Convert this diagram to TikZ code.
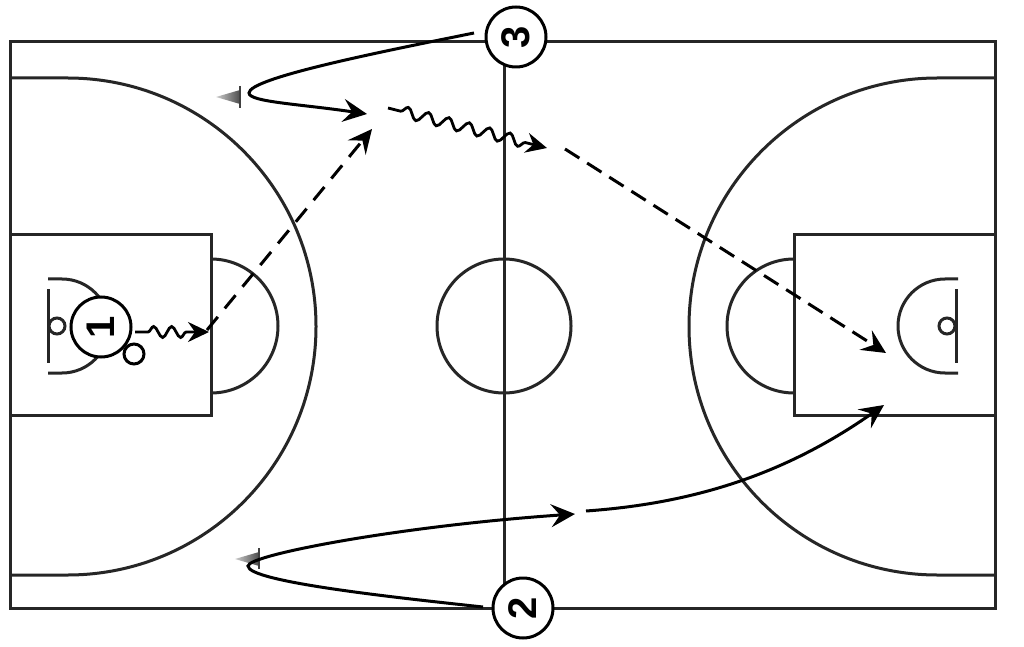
\documentclass[tikz,border=0pt]{standalone}
\usepackage{fontspec}
\setmainfont{Liberation Sans}
\usetikzlibrary{arrows.meta,decorations.pathmorphing}
\tikzset{
  court/.style={line width=3pt,draw=black!85},
  player/.style={circle,draw=black,line width=3pt,fill=white,minimum size=60pt,inner sep=0pt,font=\fontsize{40}{40}\selectfont\bfseries},
  ballnode/.style={circle,draw=black,line width=3pt,fill=white,minimum size=20pt,inner sep=0pt},
  tipbig/.style={-{Stealth[length=24pt,width=23pt,inset=9pt]}},
  move/.style={line width=3pt,tipbig},
  passing/.style={line width=3pt,tipbig,dash pattern=on 17pt off 11pt},
  passinglong/.style={line width=3pt,tipbig,dash pattern=on 17pt off 9.2pt},
  dribble/.style={line width=2.8pt,-{Stealth[length=21pt,width=20pt,inset=7pt]},decorate,decoration={snake,amplitude=5.5pt,segment length=#1,pre length=13pt,post length=16pt}},
  screenbar/.style={line width=2.4pt,draw=black!75},
}
\begin{document}
\begin{tikzpicture}[x=1pt,y=1pt]
\useasboundingbox (0,0) rectangle (1024,646);
\fill[white] (0,0) rectangle (1024,646);
% court
\draw[court] (10,38) rectangle (995,604);
\draw[court] (504,38) -- (504,604);
\draw[court] (504,320) circle[radius=67];
\draw[court] (10,411) -- (211,411) -- (211,231) -- (10,231);
\draw[court] (995,411) -- (794,411) -- (794,231) -- (995,231);
\draw[court] (211,387) arc[start angle=90,end angle=-90,radius=67];
\draw[court] (794,387) arc[start angle=90,end angle=270,radius=67];
\draw[court] (10,568) -- (67.5,568) arc[start angle=90,end angle=-90,radius=248.5] -- (10,71);
\draw[court] (995,568) -- (937.5,568) arc[start angle=90,end angle=270,radius=248.5] -- (995,71);
% baskets
\draw[court] (48,357) -- (48,283);
\draw[court] (48,367) -- (62,367) arc[start angle=90,end angle=-90,radius=47] -- (48,273);
\draw[court] (57,320) circle[radius=8];
\draw[court] (956,357) -- (956,283);
\draw[court] (958,367) -- (945,367) arc[start angle=90,end angle=270,radius=47] -- (958,273);
\draw[court] (947,320) circle[radius=8];
% screens
\shade[left color=black!20,right color=black!70] (216,549) -- (240,556) -- (240,542) -- cycle;
\draw[screenbar] (240,560) -- (240,538);
\shade[left color=black!20,right color=black!70] (235,87) -- (259,94) -- (259,80) -- cycle;
\draw[screenbar] (259,98) -- (259,77);
% players
\node[player] (p3) at (516,609) {\rotatebox{90}{3}};
\node[player] (p2) at (523,38) {\rotatebox{90}{2}};
\node[player] (p1) at (101,319) {\rotatebox{90}{1}};
\node[ballnode] (ball) at (134,292) {};
% free ends
\coordinate (a1) at (474,613);
\coordinate (a2) at (367,532);
\coordinate (b1) at (483,39);
\coordinate (b2) at (575,132);
\coordinate (c1) at (586,135);
\coordinate (c2) at (884,241);
\coordinate (d1) at (135,314);
\coordinate (d2) at (209,314);
\coordinate (e1) at (207,316);
\coordinate (e2) at (372,517);
\coordinate (f1) at (388,538);
\coordinate (f2) at (547,498);
\coordinate (g1) at (565,497);
\coordinate (g2) at (886,293);
% connectors
\draw[move] (a1) .. controls (380,594) and (249,568) .. (249,553) .. controls (249,544) and (300,542) .. (a2);
\draw[move] (b1) .. controls (400,48) and (248,64) .. (248,80) .. controls (248,91) and (400,120) .. (b2);
\draw[move] (c1) .. controls (700,143) and (790,175) .. (c2);
\draw[dribble=18pt] (d1) -- (d2);
\draw[passing] (e1) -- (e2);
\draw[dribble=21pt] (f1) -- (f2);
\draw[passinglong] (g1) -- (g2);
\end{tikzpicture}
\end{document}
